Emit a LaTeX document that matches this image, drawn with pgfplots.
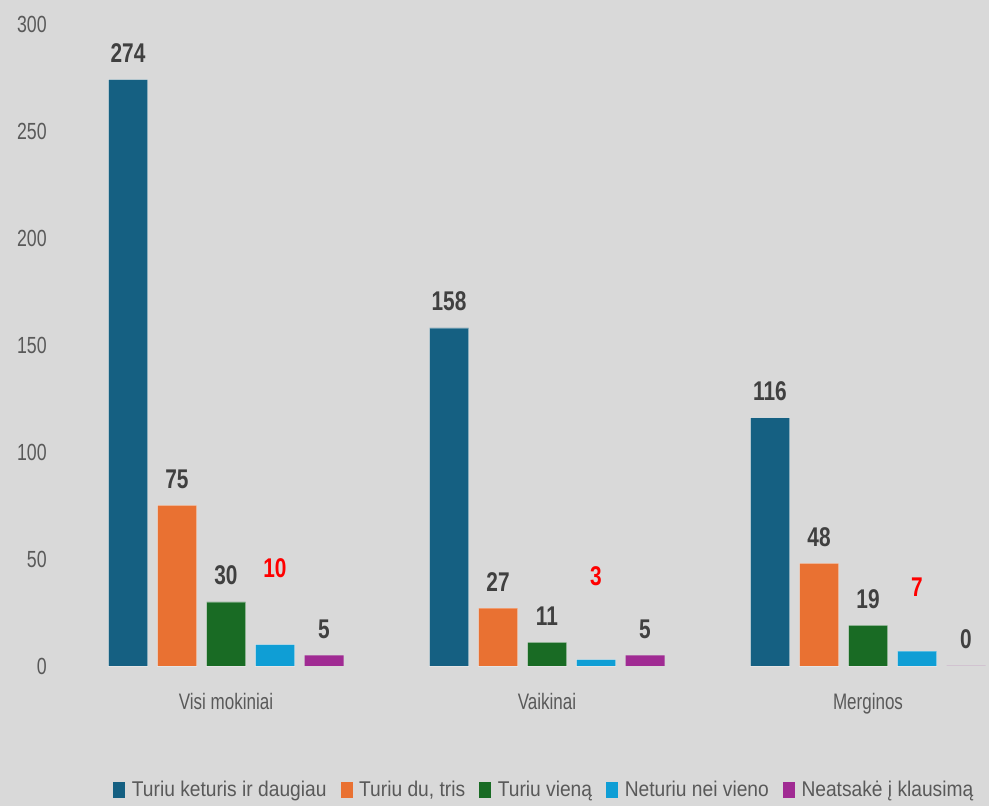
\documentclass[border=0pt]{standalone}
\usepackage{pgfplots}
\pgfplotsset{compat=1.18}
\usepackage{pgfplotstable}
\usepackage{fontspec}
\setmainfont{Liberation Sans}
\newfontfamily\tickfont{Liberation Sans}[FakeStretch=0.76]
\newfontfamily\valfont{Liberation Sans}[FakeStretch=0.77]
\newfontfamily\legfont{Liberation Sans}[FakeStretch=0.9]

\definecolor{bg}{HTML}{D9D9D9}
\definecolor{c1}{HTML}{156082}
\definecolor{c2}{HTML}{E97132}
\definecolor{c3}{HTML}{196B24}
\definecolor{c4}{HTML}{0F9ED5}
\definecolor{c5}{HTML}{A02B93}
\definecolor{tickgray}{HTML}{595959}
\definecolor{valgray}{HTML}{404040}

% one table per series: group index, value
\pgfplotstableread{
x y
0 274
1 158
2 116
}\keturi
\pgfplotstableread{
x y
0 75
1 27
2 48
}\dutris
\pgfplotstableread{
x y
0 30
1 11
2 19
}\viena
% off = extra lift of the (red) value label, pt
\pgfplotstableread{
x y off
0 10 38
1 3 43
2 7 28.6
}\nevieno
\pgfplotstableread{
x y
0 5
1 5
2 0
}\neatsake

\begin{document}
\begin{tikzpicture}
\fill[bg] (0,0) rectangle (741.75pt,604.5pt);
\useasboundingbox (0,0) rectangle (741.75pt,604.5pt);
\begin{axis}[
  at={(169.5pt,105pt)}, anchor=origin,
  x=240.75pt, y=1.605pt,
  xmin=-0.5, xmax=2.377, ymin=0, ymax=300,
  clip=false,
  axis line style={draw=none},
  major tick length=0pt,
  tick style={draw=none},
  /pgf/number format/assume math mode=true,
  ybar=7.5pt, bar width=29.25pt,
  xtick={0,1,2},
  xticklabels={Visi mokiniai, Vaikinai, Merginos},
  ytick={0,50,...,300},
  xticklabel style={font=\tickfont\fontsize{16.8}{18}\selectfont, text=tickgray,
    anchor=base, inner sep=0pt, yshift=-33pt},
  yticklabel style={font=\tickfont\fontsize{17.5}{19}\selectfont, text=tickgray,
    anchor=east, inner sep=0pt, xshift=-13.9pt},
  nodes near coords,
  nodes near coords style={font=\valfont\bfseries\fontsize{20.3}{22}\selectfont,
    text=valgray, inner sep=0pt, anchor=south, yshift=12.4pt},
  legend columns=-1,
  legend image code/.code={\fill[#1,draw=none] (0pt,-6pt) rectangle (9pt,6pt);},
  legend style={at={(0.0471,-0.1931)}, anchor=west, draw=none, fill=none,
    font=\legfont\fontsize{16}{17}\selectfont, text=tickgray,
    nodes={inner sep=0pt},
    /tikz/every even column/.append style={column sep=10.5pt},
    /tikz/every odd column/.append style={column sep=5pt}},
  legend entries={Turiu keturis ir daugiau, {Turiu du, tris}, Turiu vieną,
    Neturiu nei vieno, Neatsakė į klausimą},
]
\addplot[fill=c1, draw=white, draw opacity=0.3] table[x=x, y=y]{\keturi};
\addplot[fill=c2, draw=white, draw opacity=0.3] table[x=x, y=y]{\dutris};
\addplot[fill=c3, draw=white, draw opacity=0.3] table[x=x, y=y]{\viena};
\addplot[fill=c4, draw=white, draw opacity=0.3,
  visualization depends on={\thisrow{off}\as\off},
  nodes near coords={\raisebox{\off pt}{\pgfmathprintnumber{\pgfplotspointmeta}}},
  nodes near coords style={text=red}] table[x=x, y=y]{\nevieno};
\addplot[fill=c5, draw=none] table[x=x, y=y]{\neatsake};
\end{axis}
\end{tikzpicture}
\end{document}
